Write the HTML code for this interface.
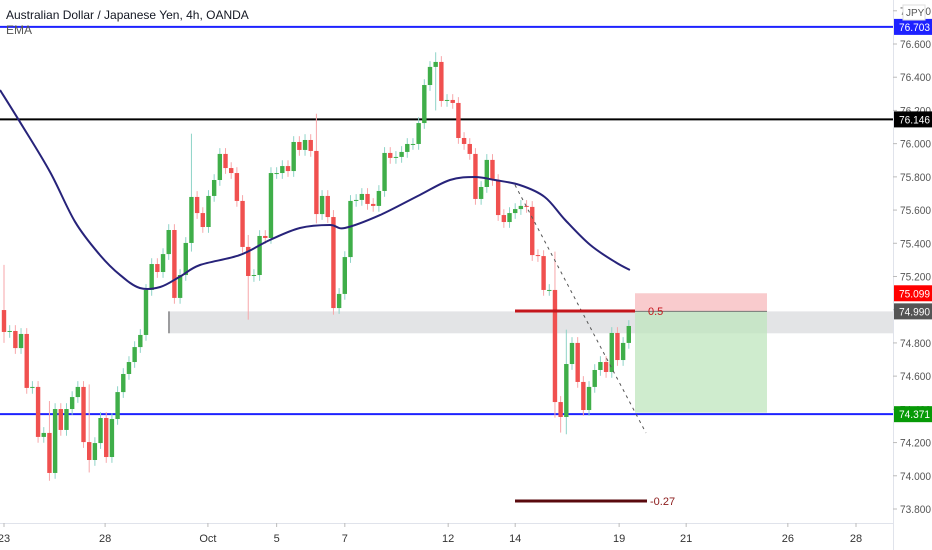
<!DOCTYPE html>
<html><head><meta charset="utf-8"><style>
html,body{margin:0;padding:0;background:#fff;}
svg{display:block;font-family:"Liberation Sans",sans-serif;}
</style></head><body>
<svg id="chart" width="932" height="550" viewBox="0 0 932 550" xmlns="http://www.w3.org/2000/svg">
<rect x="0" y="0" width="932" height="550" fill="#fff"/>
<g id="layers"></g>
<text x="6" y="19" font-size="12" fill="#131722">Australian Dollar / Japanese Yen, 4h, OANDA</text>
<text x="6" y="34" font-size="12" fill="#555">EMA</text>
</svg>
<script>
const firstOpen = 74.998;
const closes = [74.866,74.872,74.769,74.854,74.529,74.535,74.234,74.258,74.017,74.402,74.276,74.402,74.474,74.535,74.203,74.095,74.197,74.348,74.113,74.342,74.504,74.613,74.685,74.775,74.848,75.119,75.275,75.227,75.335,75.480,75.071,75.209,75.402,75.679,75.582,75.498,75.685,75.781,75.938,75.853,75.823,75.655,75.378,75.203,75.209,75.444,75.432,75.823,75.823,75.865,75.835,76.010,75.962,76.022,75.956,75.576,75.685,75.558,75.010,75.095,75.317,75.655,75.661,75.697,75.637,75.625,75.715,75.944,75.914,75.920,75.950,75.998,75.998,76.124,76.353,76.462,76.492,76.257,76.263,76.245,76.034,75.998,75.938,75.667,75.739,75.902,75.781,75.570,75.528,75.582,75.606,75.625,75.619,75.329,75.323,75.119,75.119,74.444,74.354,74.673,74.800,74.565,74.396,74.535,74.637,74.685,74.625,74.860,74.697,74.800,74.902];
const wickIdx = [0,8,15,33,43,55,58,76,97,98,99];
const wickHigh = [75.27,74.45,74.55,76.06,75.45,76.18,75.60,76.55,75.35,74.48,74.88];
const wickLow = [74.80,73.97,74.02,75.35,74.94,75.52,74.97,76.20,74.35,74.26,74.25];
const emaIdx = [-0.7,3,8.1,12.5,16.9,20.4,23.9,27.5,31,34.5,41.5,46.8,52.1,57.4,60,66.2,73.2,78.5,82.9,86.4,90.8,95.2,98.8,103.2,107.6,110.2];
const emaVal = [76.323,76.12,75.830,75.53,75.329,75.21,75.131,75.137,75.20,75.269,75.329,75.420,75.492,75.510,75.492,75.570,75.691,75.781,75.799,75.781,75.751,75.679,75.540,75.390,75.287,75.239];
const priceTicks = [73.8,74.0,74.2,74.4,74.6,74.8,75.0,75.2,75.4,75.6,75.8,76.0,76.2,76.4,76.6,76.8];
const timeLabels = ["23","28","Oct","5","7","12","14","19","21","26","28"];
const timeLabelIdx = [0,17.8,35.9,48,60,78.2,90,108.3,120.1,138,150];
const levels = [76.703,76.146,74.371];
const levelColors = ["#1e22ff","#000","#1e22ff"];

const NS="http://www.w3.org/2000/svg";
const L=document.getElementById('layers');
const yOf=p=>44+(76.6-p)*166.07;
const xOf=i=>4+i*5.68;
function mk(tag,attrs,parent){const e=document.createElementNS(NS,tag);for(const k in attrs)e.setAttribute(k,attrs[k]);(parent||L).appendChild(e);return e;}

let e;
e=mk('line',{x1:0,y1:523.5,x2:893,y2:523.5,stroke:'#e0e3eb'});


e=mk('line',{x1:893.5,y1:0,x2:893.5,y2:550,stroke:'#e0e3eb'});



e=mk('rect',{x:168,y:yOf(74.99),width:725,height:yOf(74.858)-yOf(74.99),fill:'#e3e4e6'});


mk('line',{x1:169,y1:yOf(74.99),x2:169,y2:yOf(74.858),stroke:'#555','stroke-width':1});

e=mk('rect',{x:635,y:yOf(75.099),width:132,height:yOf(74.99)-yOf(75.099),fill:'#f7b9bc',opacity:0.75});


e=mk('rect',{x:635,y:yOf(74.99),width:132,height:yOf(74.38)-yOf(74.99),fill:'#bfe5bd',opacity:0.75});


mk('line',{x1:635,y1:yOf(74.99),x2:767,y2:yOf(74.99),stroke:'#777','stroke-width':1});

levels.forEach((p,k)=>{
  const ln=mk('line',{x1:0,y1:yOf(p),x2:893,y2:yOf(p),stroke:levelColors[k],'stroke-width':2});
  
  
});

let prev=firstOpen;
closes.forEach((c,i)=>{
  const o=prev; prev=c;
  const up=c>=o;
  let hi=Math.max(o,c)+0.035, lo=Math.min(o,c)-0.035;
  const w=wickIdx.indexOf(i);
  if(w>=0){hi=Math.max(hi,wickHigh[w]);lo=Math.min(lo,wickLow[w]);}
  const x=xOf(i);
  const g=mk('g',{});
  
  
  mk('line',{x1:x,y1:yOf(hi),x2:x,y2:yOf(lo),stroke:up?'#8ed3c7':'#f7a6a9','stroke-width':1},g);
  const t=yOf(Math.max(o,c)), b=yOf(Math.min(o,c));
  mk('rect',{x:x-2.2,y:t,width:4.4,height:Math.max(1,b-t),fill:up?'#3fae49':'#f0504f'},g);
});

// EMA (Catmull-Rom smoothing)
const pts=emaIdx.map((ix,k)=>[xOf(ix),yOf(emaVal[k])]);
let d='M'+pts[0][0].toFixed(1)+','+pts[0][1].toFixed(1);
for(let k=0;k<pts.length-1;k++){
  const p0=pts[Math.max(0,k-1)],p1=pts[k],p2=pts[k+1],p3=pts[Math.min(pts.length-1,k+2)];
  const c1=[p1[0]+(p2[0]-p0[0])/6,p1[1]+(p2[1]-p0[1])/6];
  const c2=[p2[0]-(p3[0]-p1[0])/6,p2[1]-(p3[1]-p1[1])/6];
  d+='C'+c1[0].toFixed(1)+','+c1[1].toFixed(1)+' '+c2[0].toFixed(1)+','+c2[1].toFixed(1)+' '+p2[0].toFixed(1)+','+p2[1].toFixed(1);
}
e=mk('path',{d:d,fill:'none',stroke:'#27237a','stroke-width':2,'stroke-linejoin':'round'});



e=mk('line',{x1:515,y1:185,x2:646,y2:433,stroke:'#555','stroke-width':1,'stroke-dasharray':'3,4'});



e=mk('line',{x1:515,y1:311,x2:635,y2:311,stroke:'#c4161c','stroke-width':3});


e=mk('text',{x:648,y:315,'font-size':11,fill:'#c4161c'});e.textContent='0.5';


e=mk('line',{x1:515,y1:501,x2:647,y2:501,stroke:'#5a0a0e','stroke-width':3});


e=mk('text',{x:650,y:505,'font-size':11,fill:'#8b1a1a'});e.textContent='-0.27';



priceTicks.forEach(p=>{
  const y=yOf(p);
  mk('line',{x1:893,y1:y,x2:897,y2:y,stroke:'#bbb'});
  const t=mk('text',{x:900,y:y+4,'font-size':11,fill:'#555',textLength:31,lengthAdjust:'spacingAndGlyphs'});
  t.textContent=p.toFixed(3);
  
  
});
timeLabels.forEach((s,k)=>{
  const x=xOf(timeLabelIdx[k]);
  mk('line',{x1:x,y1:523,x2:x,y2:527,stroke:'#bbb'});
  const t=mk('text',{x:x,y:542,'font-size':11,fill:'#333','text-anchor':'middle'});
  t.textContent=s;
  
  
});

const tags=[[76.703,'#1e22ff','#fff'],[76.146,'#000','#fff'],[75.099,'#ff0000','#fff'],[74.99,'#555','#fff'],[74.371,'#079a07','#fff']];
tags.forEach(([p,bg,fg])=>{
  const y=yOf(p);
  const r=mk('rect',{x:894,y:y-8,width:38,height:16,fill:bg});
  
  
  const t=mk('text',{x:899,y:y+4,'font-size':11,fill:fg,textLength:31,lengthAdjust:'spacingAndGlyphs'});
  t.textContent=p.toFixed(3);
  
  
});
e=mk('rect',{x:903,y:5,width:22,height:15,fill:'#fff',stroke:'#ddd'});


e=mk('text',{x:906,y:16,'font-size':10,fill:'#555'});e.textContent='JPY';


</script>
</body></html>
